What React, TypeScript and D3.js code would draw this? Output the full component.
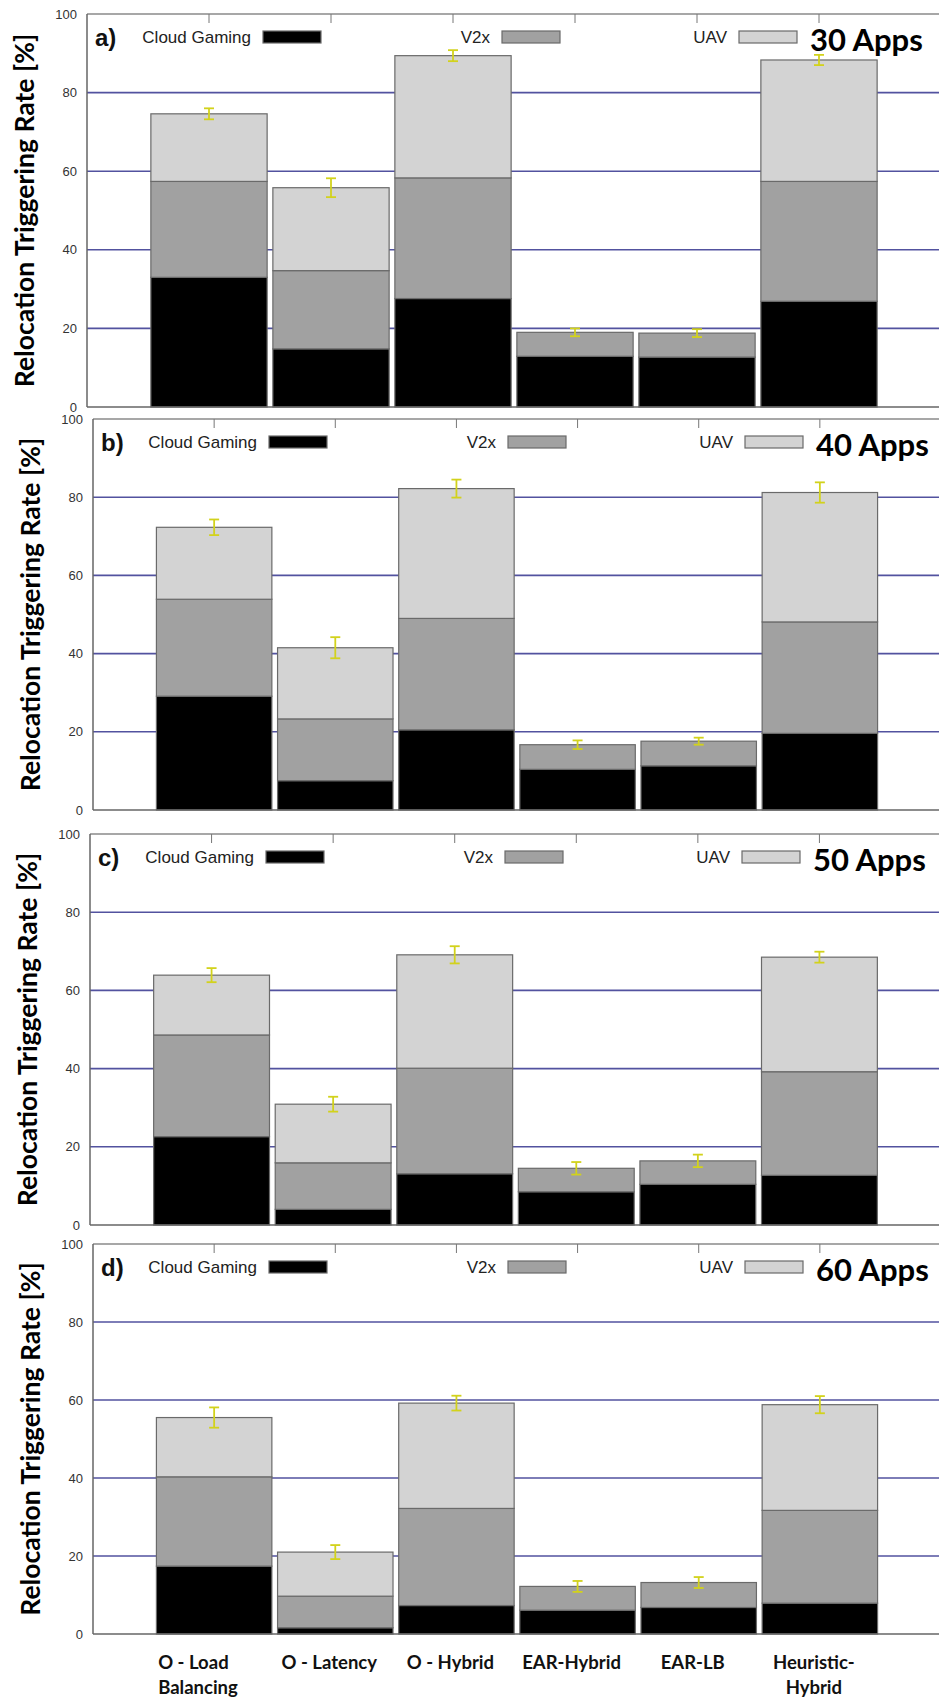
import React from 'react';
import * as d3 from 'd3';

const W = 939;
const H = 1697;

const categories = [
  ['O - Load', 'Balancing'],
  ['O - Latency'],
  ['O - Hybrid'],
  ['EAR-Hybrid'],
  ['EAR-LB'],
  ['Heuristic-', 'Hybrid'],
];
const seriesNames = ['Cloud Gaming', 'V2x', 'UAV'];
const seriesColors = ['#000000', '#a1a1a1', '#d3d3d3'];
const panelLetters = ['a)', 'b)', 'c)', 'd)'];
const appLabels = ['30 Apps', '40 Apps', '50 Apps', '60 Apps'];
const yTicks = [0, 20, 40, 60, 80, 100];

// one row per panel: 30, 40, 50, 60 apps
const cloudGaming = [
  [33.0, 14.8, 27.6, 12.9, 12.7, 26.9],
  [29.1, 7.5, 20.5, 10.4, 11.3, 19.6],
  [22.6, 4.0, 13.1, 8.5, 10.4, 12.7],
  [17.4, 1.6, 7.3, 6.1, 6.8, 7.9],
];
const v2x = [
  [24.4, 19.9, 30.7, 6.1, 6.1, 30.5],
  [24.8, 15.8, 28.5, 6.3, 6.3, 28.5],
  [26.0, 11.9, 27.0, 6.0, 6.0, 26.5],
  [22.9, 8.1, 24.9, 6.1, 6.4, 23.8],
];
const uav = [
  [17.2, 21.1, 31.1, 0, 0, 30.9],
  [18.4, 18.2, 33.2, 0, 0, 33.1],
  [15.3, 15.0, 29.0, 0, 0, 29.3],
  [15.2, 11.3, 27.0, 0, 0, 27.1],
];
const errors = [
  [1.4, 2.4, 1.4, 1.0, 1.0, 1.3],
  [2.0, 2.7, 2.3, 1.1, 0.9, 2.6],
  [1.8, 1.9, 2.2, 1.6, 1.6, 1.4],
  [2.6, 1.8, 1.9, 1.4, 1.4, 2.2],
];

// frame of each sub-plot as it sits in the figure
const frames = [
  { top: 14, bottom: 407, left: 87 },
  { top: 419, bottom: 810, left: 93 },
  { top: 834, bottom: 1225, left: 90 },
  { top: 1244, bottom: 1634, left: 93 },
];
const RIGHT = 941;

const Panel = ({ idx, showLabels }) => {
  const { top, bottom, left } = frames[idx];
  const rows = categories.map((c, i) => ({
    cat: i,
    'Cloud Gaming': cloudGaming[idx][i],
    V2x: v2x[idx][i],
    UAV: uav[idx][i],
  }));
  const stacked = d3.stack().keys(seriesNames)(rows);

  // categories sit at 1..6 on a 0..7 axis
  const x = d3.scaleLinear().domain([0, 7]).range([left, RIGHT]);
  const y = d3.scaleLinear().domain([0, 100]).range([bottom, top]);
  const step = x(1) - x(0);
  const bw = step * 0.953;

  const legendY = top + 23;
  const legend = [
    { sw: left + 176 },
    { sw: left + 415 },
    { sw: left + 652 },
  ];

  return (
    <g>
      {/* gridlines */}
      {yTicks.filter(t => t > 0 && t < 100).map(t => (
        <line key={t} x1={left} x2={RIGHT} y1={y(t)} y2={y(t)}
          stroke="#3f3f95" strokeWidth={1.6} strokeOpacity={0.9} />
      ))}
      {/* frame */}
      <line x1={left} x2={RIGHT} y1={top} y2={top} stroke="#8a8a8a" strokeWidth={1.5} />
      <line x1={left} x2={left} y1={top} y2={bottom} stroke="#666" strokeWidth={1.5} />
      {categories.map((c, i) => (
        <line key={i} x1={x(i + 1)} x2={x(i + 1)} y1={top} y2={top + 9} stroke="#777" strokeWidth={1} />
      ))}
      {yTicks.map(t => (
        <text key={t} x={left - 10} y={y(t)} textAnchor="end" dominantBaseline="central"
          fontFamily="'Liberation Sans', Arial, sans-serif" fontSize={13} fill="#333">{t}</text>
      ))}
      {/* bars */}
      {stacked.map((s, si) => s.map((d, i) => {
        const h = y(d[0]) - y(d[1]);
        if (h <= 0) return null;
        return (
          <rect key={`${si}-${i}`} x={x(i + 1) - bw / 2} y={y(d[1])} width={bw} height={h}
            fill={seriesColors[si]} stroke="#6a6a6a" strokeWidth={1.2} />
        );
      }))}
      <line x1={left} x2={RIGHT} y1={bottom} y2={bottom} stroke="#666" strokeWidth={1.6} />
      {/* error bars */}
      {rows.map((r, i) => {
        const total = r['Cloud Gaming'] + r.V2x + r.UAV;
        const e = errors[idx][i];
        const cx = x(i + 1);
        return (
          <g key={i} stroke="#d2d21c" strokeWidth={1.8}>
            <line x1={cx} x2={cx} y1={y(total + e)} y2={y(total - e)} />
            <line x1={cx - 5} x2={cx + 5} y1={y(total + e)} y2={y(total + e)} />
            <line x1={cx - 5} x2={cx + 5} y1={y(total - e)} y2={y(total - e)} />
          </g>
        );
      })}
      {/* legend */}
      <text x={left + 8} y={top + 23} dominantBaseline="central"
        fontFamily="'Liberation Sans', Arial, sans-serif" fontWeight="bold" fontSize={24} fill="#111">
        {panelLetters[idx]}
      </text>
      {seriesNames.map((n, si) => (
        <g key={n}>
          <text x={legend[si].sw - 12} y={legendY} textAnchor="end" dominantBaseline="central"
            fontFamily="'Liberation Sans', Arial, sans-serif" fontSize={17} fill="#222">{n}</text>
          <rect x={legend[si].sw} y={legendY - 6} width={58} height={12}
            fill={seriesColors[si]} stroke="#6a6a6a" strokeWidth={1.2} />
        </g>
      ))}
      <text x={left + 723} y={top + 25} dominantBaseline="central"
        fontFamily="Lato, 'Open Sans', sans-serif" fontWeight="bold" fontSize={31} fill="#000">
        {appLabels[idx]}
      </text>
      {/* y title */}
      <text transform={`translate(${left - 63},${(top + bottom) / 2}) rotate(-90)`}
        textAnchor="middle" dominantBaseline="central"
        fontFamily="Lato, 'Open Sans', sans-serif" fontWeight="bold" fontSize={26.5} fill="#000">
        Relocation Triggering Rate [%]
      </text>
      {showLabels && categories.map((lines, i) => (
        <text key={i} x={i === 0 ? x(i + 1) - 56 : x(i + 1) - 6} y={bottom + 28}
          textAnchor={i === 0 ? 'start' : 'middle'} dominantBaseline="central"
          fontFamily="Lato, 'Open Sans', sans-serif" fontWeight="bold" fontSize={18.5} fill="#111">
          {lines.map((l, li) => (
            <tspan key={li} x={i === 0 ? x(i + 1) - 56 : x(i + 1) - 6} dy={li === 0 ? 0 : 25}>{l}</tspan>
          ))}
        </text>
      ))}
    </g>
  );
};

export default function App() {
  return (
    <svg width={W} height={H} viewBox={`0 0 ${W} ${H}`}
      style={{ position: 'absolute', left: 0, top: 0, background: '#fff' }}>
      <rect width={W} height={H} fill="#fff" />
      {frames.map((f, i) => (
        <Panel key={i} idx={i} showLabels={i === 3} />
      ))}
    </svg>
  );
}
